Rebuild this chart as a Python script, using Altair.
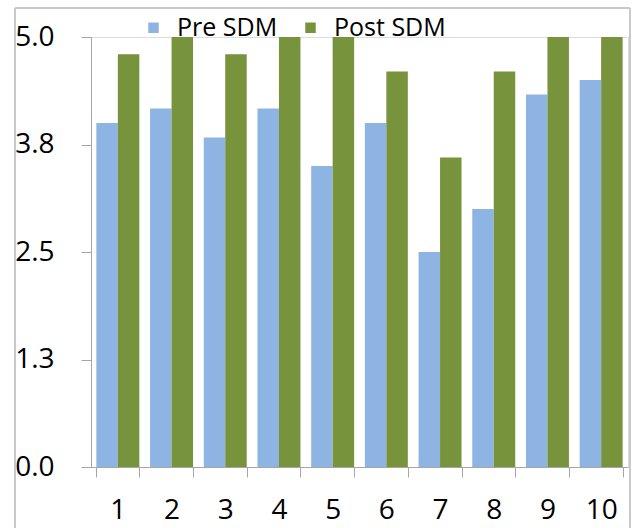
import altair as alt
import pandas as pd

categories = ["1", "2", "3", "4", "5", "6", "7", "8", "9", "10"]
pre_sdm = [4.0, 4.17, 3.83, 4.17, 3.5, 4.0, 2.5, 3.0, 4.33, 4.5]
post_sdm = [4.8, 5.0, 4.8, 5.0, 5.0, 4.6, 3.6, 4.6, 5.0, 5.0]
series = ["Pre SDM", "Post SDM"]
colors = ["#8DB4E2", "#77933C"]
y_ticks = [0, 1.25, 2.5, 3.75, 5.0]

rows = []
for c, a, b in zip(categories, pre_sdm, post_sdm):
    rows.append({"cat": c, "series": series[0], "value": a})
    rows.append({"cat": c, "series": series[1], "value": b})
df = pd.DataFrame(rows)

FONT = "Open Sans"
W, H = 537, 430

bars = alt.Chart(df).mark_bar().encode(
    x=alt.X("cat:N", sort=categories, title=None,
            scale=alt.Scale(paddingInner=0.2, paddingOuter=0.1),
            axis=alt.Axis(labelAngle=0, labelFontSize=28, labelFont=FONT, labelColor="#000000",
                          domainColor="#A6A6A6", tickColor="#A6A6A6", tickSize=10,
                          tickBand="extent", labelPadding=19, grid=False)),
    xOffset=alt.XOffset("series:N", sort=series, scale=alt.Scale(paddingInner=0, paddingOuter=0)),
    y=alt.Y("value:Q", title=None,
            scale=alt.Scale(domain=[0, 5], nice=False),
            axis=alt.Axis(values=y_ticks, format=".1f", labelFontSize=28, labelFont=FONT,
                          labelColor="#000000", domainColor="#A6A6A6", tickColor="#A6A6A6",
                          tickSize=10, labelPadding=27, grid=False)),
    color=alt.Color("series:N", sort=series,
                    scale=alt.Scale(domain=series, range=colors),
                    legend=alt.Legend(title=None, orient="none", direction="horizontal",
                                      legendX=50, legendY=-22, symbolType="square",
                                      symbolSize=110, symbolStrokeWidth=0,
                                      labelFont=FONT, labelFontSize=25, labelColor="#000000",
                                      labelOffset=11, columnPadding=20)),
)

frame_color = "#C8C8C8"
left = alt.Chart(df).mark_rule(color=frame_color, strokeWidth=1.5).encode(
    x=alt.value(-76), y=alt.value(-29), y2=alt.value(500))
top = alt.Chart(df).mark_rule(color=frame_color, strokeWidth=1.5).encode(
    x=alt.value(-76), x2=alt.value(539), y=alt.value(-29))
right = alt.Chart(df).mark_rule(color=frame_color, strokeWidth=1.5).encode(
    x=alt.value(539), y=alt.value(-29), y2=alt.value(500))

chart = alt.layer(bars, left, top, right).properties(
    width=W, height=H,
    padding={"left": 91, "top": 37, "right": 5, "bottom": 61},
    autosize=alt.AutoSizeParams(type="none"),
).configure_view(stroke=None).configure(background="#FFFFFF")

chart.save("out.html", embed_options={"renderer": "svg", "actions": False})
